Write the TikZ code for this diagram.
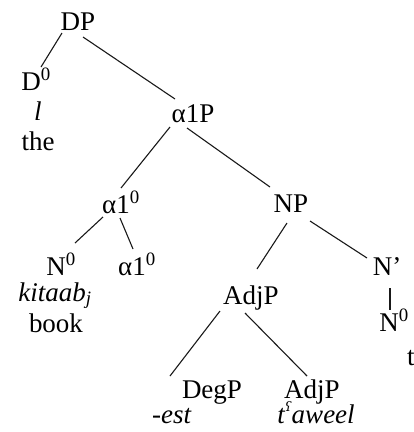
\documentclass[tikz,border=0pt]{standalone}
\usepackage{fontspec}
\setmainfont{Liberation Serif}
\newfontfamily\ipafont{DejaVu Serif}
\usetikzlibrary{calc}
\newcommand{\phar}{\raisebox{0.42em}{\ipafont\fontsize{13}{13}\selectfont ʕ}}
\begin{document}
\begin{tikzpicture}[x=1pt,y=-1pt,
  lbl/.style={inner sep=0pt, anchor=base, font=\fontsize{27}{27}\selectfont},
  edge/.style={line width=1.1pt, black!90}]
\useasboundingbox (0,0) rectangle (414,432);

% labels, placed on their baselines
\node[lbl] (DP)    at (78,30)   {DP};
\node[lbl] (D0)    at (36,90)   {D\textsuperscript{0}};
\node[lbl] (Dl)    at (38,120)  {\textit{l}};
\node[lbl] (Dthe)  at (38,150)  {the};
\node[lbl] (aP)    at (193,122) {α1P};
\node[lbl] (aA)    at (121,213) {α1\textsuperscript{0}};
\node[lbl] (NP)    at (291,212) {NP};
\node[lbl] (N0a)   at (61,275)  {N\textsuperscript{0}};
\node[lbl] (aB)    at (137,275) {α1\textsuperscript{0}};
\node[lbl] (kit)   at (55,301)  {\textit{kitaab\textsubscript{j}}};
\node[lbl] (book)  at (56,332)  {book};
\node[lbl] (AdjA)  at (251,304) {AdjP};
\node[lbl] (Nbar)  at (387,275) {N’};
\node[lbl] (N0b)   at (394,331) {N\textsuperscript{0}};
\node[lbl, anchor=base west] (Nt) at (407,365) {t};
\node[lbl] (DegP)  at (212,398) {DegP};
\node[lbl] (est)   at (172,423) {\textit{-est}};
\node[lbl] (AdjB)  at (312,398) {AdjP};
\node[lbl] (taw)   at (316,423) {\textit{t\phar aweel}};

% branches, measured from each label's baseline
\draw[edge] ($(DP.base)+(-16,3)$)   -- ($(D0.base)+(5,-23)$);
\draw[edge] ($(DP.base)+(5,7)$)     -- ($(aP.base)+(-18,-23)$);
\draw[edge] ($(aP.base)+(-23,5)$)   -- ($(aA.base)+(0,-25)$);
\draw[edge] ($(aP.base)+(-6,6)$)    -- ($(NP.base)+(-21,-25)$);
\draw[edge] ($(aA.base)+(-18,4)$)   -- ($(N0a.base)+(14,-32)$);
\draw[edge] ($(aA.base)+(-1,5)$)    -- ($(aB.base)+(-4,-26)$);
\draw[edge] ($(NP.base)+(-4,11)$)   -- ($(AdjA.base)+(6,-35)$);
\draw[edge] ($(NP.base)+(19,9)$)    -- ($(Nbar.base)+(-20,-17)$);
\draw[edge] ($(Nbar.base)+(3,13)$)  -- ($(N0b.base)+(-4,-21)$);
\draw[edge] ($(AdjA.base)+(-31,7)$) -- ($(DegP.base)+(-42,-22)$);
\draw[edge] ($(AdjA.base)+(-6,9)$)  -- ($(AdjB.base)+(-5,-22)$);
\end{tikzpicture}
\end{document}
